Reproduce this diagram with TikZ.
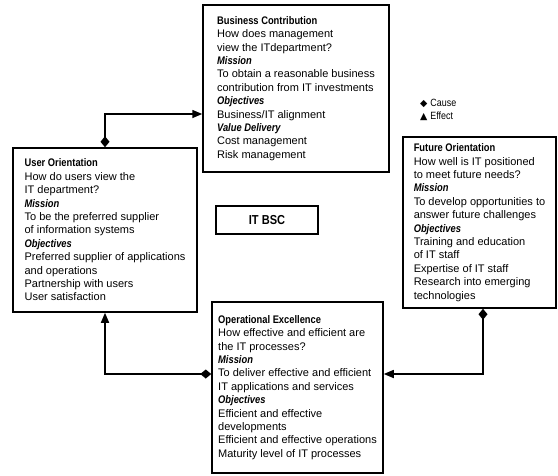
\documentclass[tikz,border=0pt]{standalone}
\usepackage{fontspec}
\setmainfont{Liberation Sans}
\newfontfamily\narrowfont[FakeStretch=0.85]{Liberation Sans}
\newfontfamily\symfont{DejaVu Sans}
\usetikzlibrary{arrows.meta,positioning,calc}

\newcommand{\head}[1]{{\narrowfont\bfseries #1}}
\newcommand{\subhead}[1]{{\narrowfont\bfseries\itshape #1}}

\begin{document}
\begin{tikzpicture}[
        x=1pt, y=-1pt,
        card/.style 2 args={draw, line width=1.5pt, align=left, inner xsep=5pt, inner ysep=3pt,
            font=\fontsize{11}{13.4}\selectfont, minimum width=#1, minimum height=#2},
        link/.style={line width=1.5pt, {Diamond[length=11pt,width=9pt]}-{Triangle[length=10pt,width=8pt]}}
    ]
        \useasboundingbox (0,0) rectangle (558,475);
        \node[card={186pt}{167pt}] (biz) at (296,88.5) {\head{Business Contribution}\\How does management\\view the ITdepartment?\\\subhead{Mission}\\To obtain a reasonable business\\contribution from IT investments\\\subhead{Objectives}\\Business/IT alignment\\\subhead{Value Delivery}\\Cost management\\Risk management};
        \node[card={184pt}{164pt}] (user) at (105,230) {\head{User Orientation}\\How do users view the\\IT department?\\\subhead{Mission}\\To be the preferred supplier\\of information systems\\\subhead{Objectives}\\Preferred supplier of applications\\and operations\\Partnership with users\\User satisfaction};
        \node[card={153pt}{171pt}] (fut) at (479.5,222.5) {\head{Future Orientation}\\How well is IT positioned\\to meet future needs?\\\subhead{Mission}\\To develop opportunities to\\answer future challenges\\\subhead{Objectives}\\Training and education\\of IT staff\\Expertise of IT staff\\Research into emerging\\technologies};
        \node[card={171pt}{171pt}] (op) at (297.5,387.5) {\head{Operational Excellence}\\How effective and efficient are\\the IT processes?\\\subhead{Mission}\\To deliver effective and efficient\\IT applications and services\\\subhead{Objectives}\\Efficient and effective\\developments\\Efficient and effective operations\\Maturity level of IT processes};
        \node[draw, line width=1.5pt, minimum width=102pt, minimum height=28pt, font=\fontsize{13}{15}\selectfont] (bsc) at (267,220) {\head{IT BSC}};
        \node[align=left, anchor=west, inner sep=0pt, font=\fontsize{10.5}{13}\selectfont] (legend) at (420,109.5) {{\symfont\fontsize{9.5}{13}\selectfont◆} {\narrowfont Cause}\\{\symfont\fontsize{9.5}{13}\selectfont▲} {\narrowfont Effect}};
        \draw[link] (user.north) |- ([yshift=-25.5pt]biz.west);
        \draw[link] ([xshift=3.5pt]fut.south) |- ([yshift=13.5pt]op.east);
        \draw[link] ([yshift=13.5pt]op.west) -| (user.south);
    \end{tikzpicture}
\end{document}
